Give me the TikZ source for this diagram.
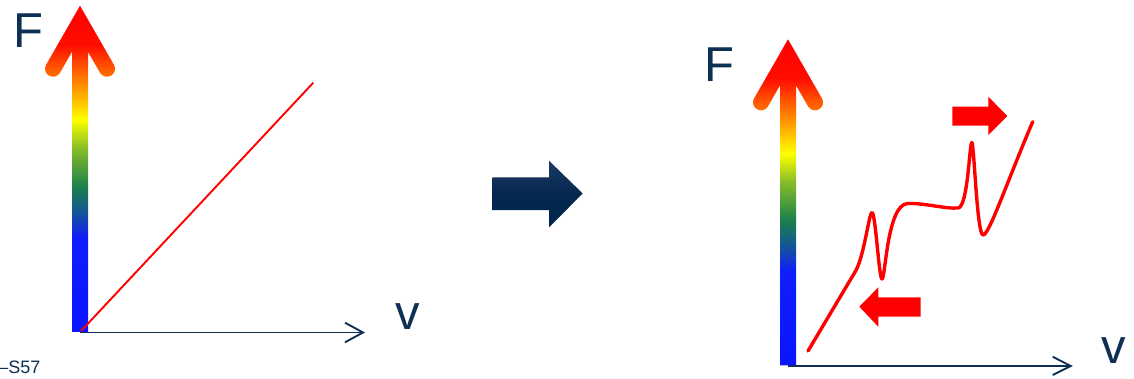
\documentclass[tikz,border=0pt]{standalone}
\usepackage{fontspec}
\setmainfont{Liberation Sans}
\definecolor{navy}{RGB}{14,48,84}
\definecolor{navytop}{RGB}{30,58,98}
\definecolor{navybot}{RGB}{0,36,76}
\definecolor{pure red}{RGB}{255,0,0}

% blue -> green -> yellow -> orange -> red, bottom to top (inner 25bp..75bp = path box)
\pgfdeclareverticalshading{spectrum}{100bp}{%
  rgb(0bp)=(0.04,0.08,1);
  rgb(25bp)=(0.04,0.08,1);
  rgb(39.5bp)=(0.06,0.12,0.98);
  rgb(43.25bp)=(0.08,0.33,0.6);
  rgb(47.2bp)=(0.1,0.5,0.3);
  rgb(53.35bp)=(0.55,0.75,0.15);
  rgb(57.5bp)=(1,1,0);
  rgb(62.5bp)=(1,0.58,0);
  rgb(69bp)=(1,0.05,0);
  rgb(75bp)=(1,0,0);
  rgb(100bp)=(1,0,0)}

% thick force axis with a round-capped chevron head; #1,#2 = centre of the head's apex
\newcommand\spectrumarrow[2]{%
  \shade[shading=spectrum, shift={(#1,#2)}]
    (0,16.06) -- (-33.93,-43.01)
    arc[start angle=150.1, end angle=330.1, radius=8pt]
    -- (-8,-29.97) -- (-8,-310) -- (8,-310) -- (8,-29.97) -- (20.07,-50.99)
    arc[start angle=209.9, end angle=389.9, radius=8pt] -- cycle;}

\tikzset{
  axis/.style={draw=navy, line width=1.9pt},
  axishead/.style={draw=navy, line width=1.9pt, line join=miter},
  label/.style={inner sep=0pt, text=navy, font=\fontsize{49}{49}\selectfont},
  curve/.style={draw=pure red, line cap=round, line join=round},
  blockarrow/.style={fill=pure red}
}

\begin{document}
\begin{tikzpicture}[x=1pt, y=1pt]
\useasboundingbox (0,0) rectangle (1134,378);

% ---------- left plot: linear force-velocity relation ----------
\spectrumarrow{80}{356.2}
\coordinate (o1) at (80,45.5);
\coordinate (x1) at (363,45.5);
\coordinate (r1a) at (81,47);
\coordinate (r1b) at (313.3,295.3);
\draw[axis] (o1) -- (x1);
\draw[axishead] (345,55.3) -- (x1) -- (345,35.7);
\draw[curve, line width=1.9pt, line cap=butt] (r1a) -- (r1b);

\node[label, anchor=base west] (F1) at (12.8,330) {F};
\node[label, anchor=base west] (v1) at (395.7,48.7) {v};
\node[inner sep=0pt, text=navy, font=\fontsize{18}{18}\selectfont,
      anchor=base west] (tag) at (-1.9,5) {–S57};

% ---------- transition arrow ----------
\shade[top color=navytop, bottom color=navybot, middle color=navybot!85!navytop]
  (492.3,200.7) -- (549,200.7) -- (549,217.3) -- (582.7,184.5)
  -- (549,150.7) -- (549,168) -- (492.3,168) -- cycle;

% ---------- right plot: non-monotonic relation with jumps ----------
\spectrumarrow{788}{322.6}
\coordinate (o2) at (788,12);
\coordinate (x2) at (1070.7,12);
\draw[axis] (o2) -- (x2);
\draw[axishead] (1052.7,21.3) -- (x2) -- (1052.7,3);

\draw[curve, line width=3.4pt]
  (808,27) -- (855,106)
  .. controls (864,120) and (869,165.5) .. (872,165.5)
  .. controls (875.5,165.5) and (879,99) .. (882,99)
  .. controls (885.5,99) and (887,174.5) .. (908,174.5)
  .. controls (925,175) and (945,169) .. (958,170)
  .. controls (968,170.5) and (969.5,235.5) .. (971.8,235.5)
  .. controls (974,235.5) and (977,143) .. (983,143)
  .. controls (989,143) and (1005,191) .. (1032.7,256.3);

% jump directions
\fill[blockarrow]
  (952.3,271.3) -- (988.3,271.3) -- (988.3,281.3) -- (1007.3,262)
  -- (988.3,243) -- (988.3,252.3) -- (952.3,252.3) -- cycle;
\fill[blockarrow]
  (920.7,80.7) -- (878.3,80.7) -- (878.3,90.7) -- (859.3,71.3)
  -- (878.3,51.3) -- (878.3,61.3) -- (920.7,61.3) -- cycle;

\node[label, anchor=base west] (F2) at (704.1,296) {F};
\node[label, anchor=base west] (v2) at (1101.4,15) {v};
\end{tikzpicture}
\end{document}
